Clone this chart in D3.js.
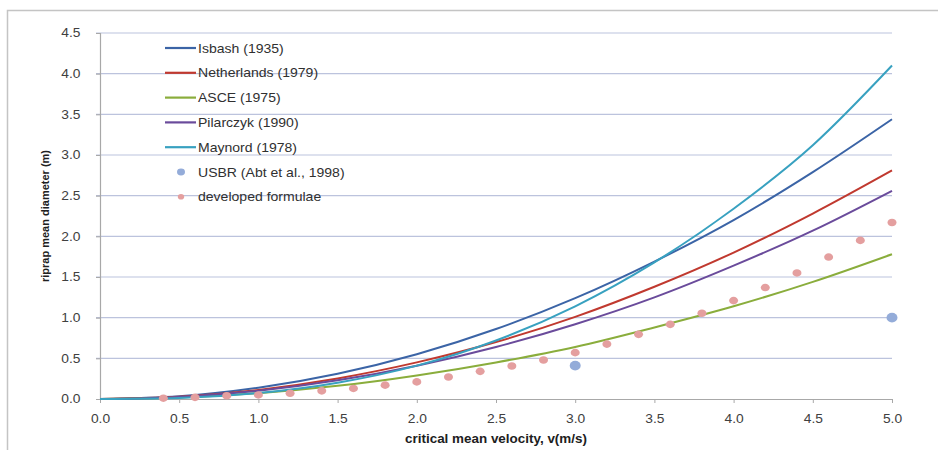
<!DOCTYPE html>
<html>
<head>
<meta charset="utf-8">
<script src="https://cdn.jsdelivr.net/npm/d3@7"></script>
<style>
  body { margin: 0; background: #fff; }
  text { font-family: "Liberation Sans", Arial, sans-serif; }
</style>
</head>
<body>
<div id="chart"></div>
<script>
// velocities (m/s) for the formula curves
const velocity = [0, 0.5, 1.0, 1.5, 2.0, 2.5, 3.0, 3.5, 4.0, 4.5, 5.0];

// riprap mean diameter (m)
const isbash       = [0, 0.034, 0.138, 0.31, 0.55, 0.86, 1.24, 1.69, 2.20, 2.79, 3.44];
const netherlands  = [0, 0.028, 0.112, 0.253, 0.45, 0.70, 1.01, 1.38, 1.80, 2.28, 2.81];
const asce         = [0, 0.018, 0.072, 0.162, 0.29, 0.45, 0.64, 0.88, 1.14, 1.44, 1.78];
const pilarczyk    = [0, 0.026, 0.102, 0.23, 0.41, 0.64, 0.92, 1.25, 1.64, 2.07, 2.56];
const maynord      = [0, 0.013, 0.073, 0.20, 0.41, 0.72, 1.14, 1.68, 2.34, 3.12, 4.10];

// USBR points
const usbrV = [3.0, 5.0];
const usbrD = [0.41, 1.00];

// developed formulae points
const devV = [0.4, 0.6, 0.8, 1.0, 1.2, 1.4, 1.6, 1.8, 2.0, 2.2, 2.4, 2.6, 2.8, 3.0, 3.2, 3.4, 3.6, 3.8, 4.0, 4.2, 4.4, 4.6, 4.8, 5.0];
const devD = [0.01, 0.02, 0.04, 0.05, 0.07, 0.10, 0.13, 0.17, 0.21, 0.27, 0.34, 0.405, 0.48, 0.57, 0.675, 0.795, 0.918, 1.054, 1.21, 1.37, 1.55, 1.745, 1.95, 2.17];

const seriesNames = ["Isbash (1935)", "Netherlands (1979)", "ASCE (1975)", "Pilarczyk (1990)", "Maynord (1978)"];
const seriesData = [isbash, netherlands, asce, pilarczyk, maynord];
const seriesColors = ["#3b64a6", "#c0392f", "#8aad3c", "#6a4b9b", "#38a1c0"];

const xTicks = [0, 0.5, 1, 1.5, 2, 2.5, 3, 3.5, 4, 4.5, 5];
const yTicks = [0, 0.5, 1, 1.5, 2, 2.5, 3, 3.5, 4, 4.5];

const width = 938, height = 450;
const margin = {top: 33, right: 46, bottom: 51, left: 100};
const stretch = 1.15; // the source picture is a little wider than tall

const svg = d3.select("#chart").append("svg")
  .attr("width", width)
  .attr("height", height);

// outer frame
svg.append("path")
  .attr("d", "M7.5,450 V10.5 H938")
  .attr("fill", "none")
  .attr("stroke", "#c4c4c4")
  .attr("stroke-width", 1.5);

const x = d3.scaleLinear().domain([0, 5]).range([margin.left, width - margin.right]);
const y = d3.scaleLinear().domain([0, 4.5]).range([height - margin.bottom, margin.top]);

// gridlines
svg.append("g")
  .selectAll("line")
  .data(yTicks.slice(1))
  .join("line")
  .attr("x1", x(0) - 4).attr("x2", x(5))
  .attr("y1", d => y(d)).attr("y2", d => y(d))
  .attr("stroke", "#bcc3dd")
  .attr("stroke-width", 1.2);

// y axis
const yAxis = svg.append("g")
  .attr("transform", `translate(${x(0)},0)`)
  .call(d3.axisLeft(y).tickValues(yTicks).tickFormat(d3.format(".1f")).tickSize(4).tickPadding(13));
yAxis.select(".domain").attr("stroke", "#a8a8a8").attr("stroke-width", 1.2);
yAxis.selectAll(".tick line").attr("stroke", "#a8a8a8");
yAxis.selectAll("text").attr("fill", "#404040").style("font-size", "12px")
  .attr("transform", `scale(${stretch},1)`);

// x axis
const xAxis = svg.append("g")
  .attr("transform", `translate(0,${y(0)})`)
  .call(d3.axisBottom(x).tickValues(xTicks).tickFormat(d3.format(".1f")).tickSize(4).tickSizeOuter(0).tickPadding(11));
xAxis.select(".domain").attr("stroke", "#a8a8a8").attr("stroke-width", 1.2);
xAxis.selectAll(".tick line").attr("stroke", "#a8a8a8");
xAxis.selectAll("text").attr("fill", "#404040").style("font-size", "12px")
  .attr("transform", `scale(${stretch},1)`);

// axis titles
svg.append("text")
  .attr("transform", `translate(${x(2.5)},443) scale(1.12,1)`)
  .attr("text-anchor", "middle")
  .style("font-size", "12px")
  .style("font-weight", "bold")
  .attr("fill", "#202020")
  .text("critical mean velocity, v(m/s)");

svg.append("text")
  .attr("transform", `translate(49,${y(2.25)}) rotate(-90)`)
  .attr("text-anchor", "middle")
  .style("font-size", "11px")
  .style("font-weight", "bold")
  .attr("fill", "#202020")
  .text("riprap mean diameter (m)");

// curves
const line = d3.line()
  .x((d, i) => x(velocity[i]))
  .y(d => y(d))
  .curve(d3.curveMonotoneX);

svg.append("g")
  .selectAll("path")
  .data(seriesData)
  .join("path")
  .attr("d", d => line(d))
  .attr("fill", "none")
  .attr("stroke", (d, i) => seriesColors[i])
  .attr("stroke-width", 2);

// developed formulae points
svg.append("g")
  .selectAll("ellipse")
  .data(devD)
  .join("ellipse")
  .attr("cx", (d, i) => x(devV[i]))
  .attr("cy", d => y(d))
  .attr("rx", 4.5).attr("ry", 3.8)
  .attr("fill", "#e49f9f");

// USBR points
svg.append("g")
  .selectAll("ellipse")
  .data(usbrD)
  .join("ellipse")
  .attr("cx", (d, i) => x(usbrV[i]))
  .attr("cy", d => y(d))
  .attr("rx", 5.5).attr("ry", 4.8)
  .attr("fill", "#94acd9");

// legend
const legend = svg.append("g").attr("transform", "translate(165,48)");
const rowH = 24.8;

seriesNames.forEach((name, i) => {
  const g = legend.append("g").attr("transform", `translate(0,${i * rowH})`);
  g.append("line")
    .attr("x1", 0).attr("x2", 31)
    .attr("stroke", seriesColors[i]).attr("stroke-width", 2.2);
  g.append("text")
    .attr("transform", `translate(33,4.5) scale(1.17,1)`)
    .style("font-size", "12px")
    .attr("fill", "#303030")
    .text(name);
});

const pointItems = [
  {name: "USBR (Abt et al., 1998)", color: "#94acd9", rx: 4, ry: 3.4},
  {name: "developed formulae", color: "#e49f9f", rx: 3.2, ry: 2.8}
];
pointItems.forEach((p, j) => {
  const g = legend.append("g").attr("transform", `translate(0,${(5 + j) * rowH})`);
  g.append("ellipse")
    .attr("cx", 16).attr("cy", 0)
    .attr("rx", p.rx).attr("ry", p.ry)
    .attr("fill", p.color);
  g.append("text")
    .attr("transform", `translate(33,4.5) scale(1.17,1)`)
    .style("font-size", "12px")
    .attr("fill", "#303030")
    .text(p.name);
});
</script>
</body>
</html>
